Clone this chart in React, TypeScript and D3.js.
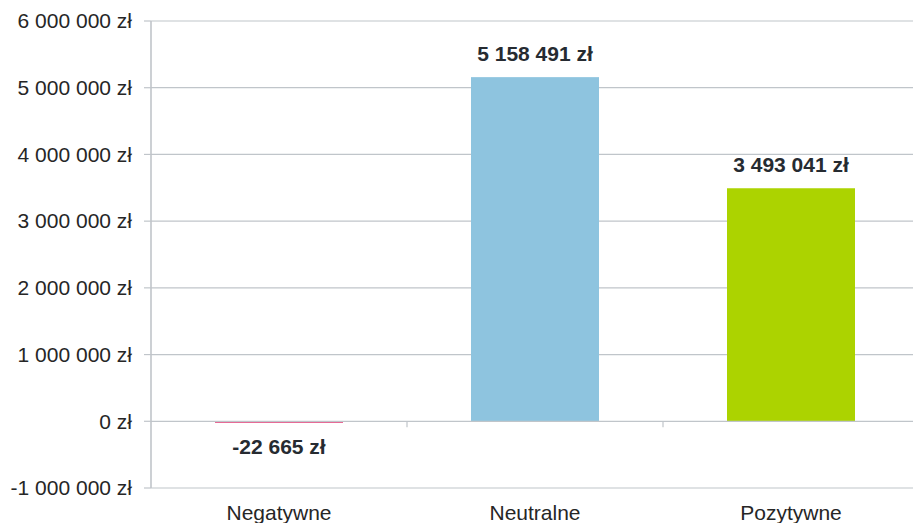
import React from "react";
import * as d3 from "d3";

const categories = ["Negatywne", "Neutralne", "Pozytywne"];
const values = [-22665, 5158491, 3493041];
const barColors = ["#e0457b", "#8ec4df", "#acd300"];
const yTicks = [-1000000, 0, 1000000, 2000000, 3000000, 4000000, 5000000, 6000000];

const W = 913;
const H = 523;
const left = 151;
const right = 919;
const top = 21;
const bottom = 488;

const pl = d3.formatLocale({ decimal: ",", thousands: " ", grouping: [3], currency: ["", " zł"] });
const fmt = (v: number) => pl.format(",.0f")(v).replace("−", "-") + " zł";

export default function App() {
  const y = d3.scaleLinear().domain([-1000000, 6000000]).range([bottom, top]);
  const x = d3.scaleBand<string>().domain(categories).range([left, right]).paddingInner(0.5).paddingOuter(0.25);
  const step = x.step();
  const zeroY = y(0);
  const grid = "#c0c5ca";
  const font = "'Liberation Sans', Arial, sans-serif";

  return (
    <svg width={W} height={H} style={{ position: "absolute", left: 0, top: 0, background: "#fff" }} fontFamily={font}>
      {yTicks.map((t) => (
        <g key={t}>
          {t !== 0 && <line x1={left} x2={W} y1={y(t)} y2={y(t)} stroke={grid} strokeWidth={1.2} />}
          <line x1={144} x2={left} y1={y(t)} y2={y(t)} stroke={grid} strokeWidth={1.2} />
          <text x={132} y={y(t)} dy="0.35em" textAnchor="end" fontSize={21} fill="#262626">
            {fmt(t)}
          </text>
        </g>
      ))}
      {categories.map((c, i) => {
        const v = values[i];
        const y0 = Math.min(y(0), y(v));
        const h = Math.abs(y(v) - y(0));
        const cx = (x(c) as number) + x.bandwidth() / 2;
        return (
          <g key={c}>
            <rect x={x(c)} y={y0} width={x.bandwidth()} height={h} fill={barColors[i]} />
            <text
              x={cx}
              y={v >= 0 ? y(v) - 16 : y(v) + 31}
              textAnchor="middle"
              fontSize={21}
              fontWeight="bold"
              fill="#262b31"
            >
              {fmt(v)}
            </text>
            <text x={cx} y={520} textAnchor="middle" fontSize={21} fill="#262626">
              {c}
            </text>
          </g>
        );
      })}
      <line x1={left} x2={W} y1={zeroY} y2={zeroY} stroke={grid} strokeWidth={1.2} />
      {categories.slice(1).map((c) => {
        const bx = (x(c) as number) - (step - x.bandwidth()) / 2;
        return <line key={c} x1={bx} x2={bx} y1={zeroY} y2={zeroY + 6} stroke={grid} strokeWidth={1.2} />;
      })}
      <line x1={left} x2={left} y1={top} y2={bottom} stroke={grid} strokeWidth={1.6} />
    </svg>
  );
}
